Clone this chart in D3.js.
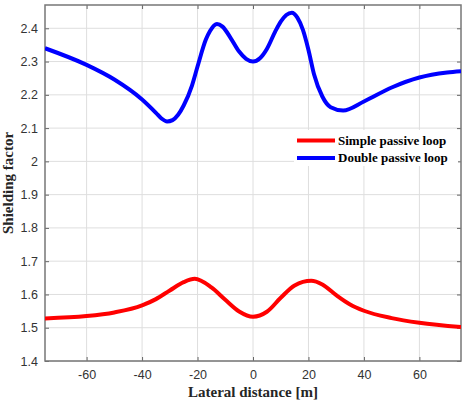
<!DOCTYPE html>
<html>
<head>
<meta charset="utf-8">
<script src="https://cdn.jsdelivr.net/npm/d3@7"></script>
<style>
  body { margin: 0; background: #fff; }
</style>
</head>
<body>
<div id="chart"></div>
<script>
var w = 467;
var h = 405;

// Lateral distance [m] for each series
var xSimple = [-75, -60, -50, -40, -35, -30, -25, -21, -15, -10, -5, 0, 5, 10, 15, 21, 25, 30, 35, 40, 50, 60, 75];
var ySimple = [1.528, 1.535, 1.546, 1.567, 1.586, 1.612, 1.637, 1.647, 1.621, 1.584, 1.549, 1.533, 1.548, 1.590, 1.627, 1.641, 1.630, 1.598, 1.570, 1.551, 1.529, 1.515, 1.502];

var xDouble = [-75, -60, -50, -40, -35, -33, -31, -29, -27, -25, -22, -20, -17, -15.5, -13, -11, -8, -5, -2.5, 0, 2.5, 5, 8, 10, 12, 14, 16, 18, 20, 22, 25, 28, 32.5, 40, 50, 60, 70, 75];
var yDouble = [2.340, 2.290, 2.246, 2.186, 2.146, 2.129, 2.120, 2.124, 2.140, 2.168, 2.228, 2.285, 2.366, 2.392, 2.413, 2.405, 2.370, 2.330, 2.308, 2.300, 2.310, 2.338, 2.390, 2.420, 2.440, 2.447, 2.432, 2.395, 2.335, 2.262, 2.195, 2.163, 2.153, 2.180, 2.222, 2.252, 2.267, 2.271];

var seriesNames = ["Simple passive loop", "Double passive loop"];
var seriesColors = ["#ff0000", "#0000ff"];

var xTicks = [-60, -40, -20, 0, 20, 40, 60];
var yTicks = [1.4, 1.5, 1.6, 1.7, 1.8, 1.9, 2, 2.1, 2.2, 2.3, 2.4];

// plot box in pixels
var pLeft = 45, pRight = 461, pTop = 5, pBottom = 361;

var x = d3.scaleLinear().domain([-75, 75]).range([pLeft, pRight]);
var y = d3.scaleLinear().domain([1.4, 2.47]).range([pBottom, pTop]);

var svg = d3.select("#chart")
  .append("svg")
  .attr("width", w)
  .attr("height", h);

// grid
svg.append("g")
  .selectAll("line")
  .data(xTicks)
  .enter()
  .append("line")
  .attr("x1", d => x(d)).attr("x2", d => x(d))
  .attr("y1", pTop).attr("y2", pBottom)
  .attr("stroke", "#dedede")
  .attr("stroke-width", 1);

svg.append("g")
  .selectAll("line")
  .data(yTicks)
  .enter()
  .append("line")
  .attr("x1", pLeft).attr("x2", pRight)
  .attr("y1", d => y(d)).attr("y2", d => y(d))
  .attr("stroke", "#dedede")
  .attr("stroke-width", 1);

// axes with inward ticks, on all four sides
var tickLen = 4;
var plain = d => String(d);   // hyphen minus like the reference

function styleAxis(g) {
  g.select(".domain").remove();
  g.selectAll(".tick line").attr("stroke", "#666");
  g.selectAll(".tick text")
    .attr("fill", "#333")
    .style("font-family", "Liberation Sans, Arial, sans-serif")
    .style("font-size", "12.5px");
}

svg.append("g")
  .attr("transform", "translate(0," + pBottom + ")")
  .call(d3.axisBottom(x).tickValues(xTicks).tickSizeInner(-tickLen).tickSizeOuter(0).tickPadding(9).tickFormat(plain))
  .call(styleAxis);

svg.append("g")
  .attr("transform", "translate(0," + pTop + ")")
  .call(d3.axisTop(x).tickValues(xTicks).tickSizeInner(-tickLen).tickSizeOuter(0).tickFormat(""))
  .call(styleAxis);

svg.append("g")
  .attr("transform", "translate(" + pLeft + ",0)")
  .call(d3.axisLeft(y).tickValues(yTicks).tickSizeInner(-tickLen).tickSizeOuter(0).tickPadding(7).tickFormat(plain))
  .call(styleAxis);

svg.append("g")
  .attr("transform", "translate(" + pRight + ",0)")
  .call(d3.axisRight(y).tickValues(yTicks).tickSizeInner(-tickLen).tickSizeOuter(0).tickFormat(""))
  .call(styleAxis);

// frame
svg.append("rect")
  .attr("x", pLeft).attr("y", pTop)
  .attr("width", pRight - pLeft).attr("height", pBottom - pTop)
  .attr("fill", "none")
  .attr("stroke", "#777")
  .attr("stroke-width", 1.5);

// curves
var line = d3.line()
  .x(d => x(d[0]))
  .y(d => y(d[1]))
  .curve(d3.curveMonotoneX);

svg.append("clipPath").attr("id", "clip")
  .append("rect")
  .attr("x", pLeft).attr("y", pTop)
  .attr("width", pRight - pLeft).attr("height", pBottom - pTop);

var series = [d3.zip(xSimple, ySimple), d3.zip(xDouble, yDouble)];

svg.append("g")
  .attr("clip-path", "url(#clip)")
  .selectAll("path")
  .data(series)
  .enter()
  .append("path")
  .attr("d", line)
  .attr("fill", "none")
  .attr("stroke", (d, i) => seriesColors[i])
  .attr("stroke-width", 4)
  .attr("stroke-linejoin", "round");

// legend
var legend = svg.append("g")
  .attr("transform", "translate(294,130)");

legend.append("rect")
  .attr("width", 164)
  .attr("height", 36)
  .attr("fill", "#fff");

var legendItems = legend.selectAll(".legend-item")
  .data(seriesNames)
  .enter()
  .append("g")
  .attr("class", "legend-item")
  .attr("transform", (d, i) => "translate(0," + (i * 17.5 + 10.5) + ")");

legendItems.append("line")
  .attr("x1", 3).attr("x2", 41)
  .attr("stroke", (d, i) => seriesColors[i])
  .attr("stroke-width", 4);

legendItems.append("text")
  .attr("x", 44)
  .attr("dy", "0.33em")
  .style("font-family", "Liberation Serif, Times New Roman, serif")
  .style("font-weight", "bold")
  .style("font-size", "13px")
  .attr("fill", "#000")
  .text(d => d);

// axis titles
svg.append("text")
  .attr("x", (pLeft + pRight) / 2)
  .attr("y", 397)
  .attr("text-anchor", "middle")
  .style("font-family", "Liberation Serif, Times New Roman, serif")
  .style("font-weight", "bold")
  .style("font-size", "15px")
  .attr("fill", "#262626")
  .text("Lateral distance [m]");

svg.append("text")
  .attr("transform", "translate(13," + ((pTop + pBottom) / 2) + ") rotate(-90)")
  .attr("text-anchor", "middle")
  .style("font-family", "Liberation Serif, Times New Roman, serif")
  .style("font-weight", "bold")
  .style("font-size", "15px")
  .attr("fill", "#262626")
  .text("Shielding factor");
</script>
</body>
</html>
